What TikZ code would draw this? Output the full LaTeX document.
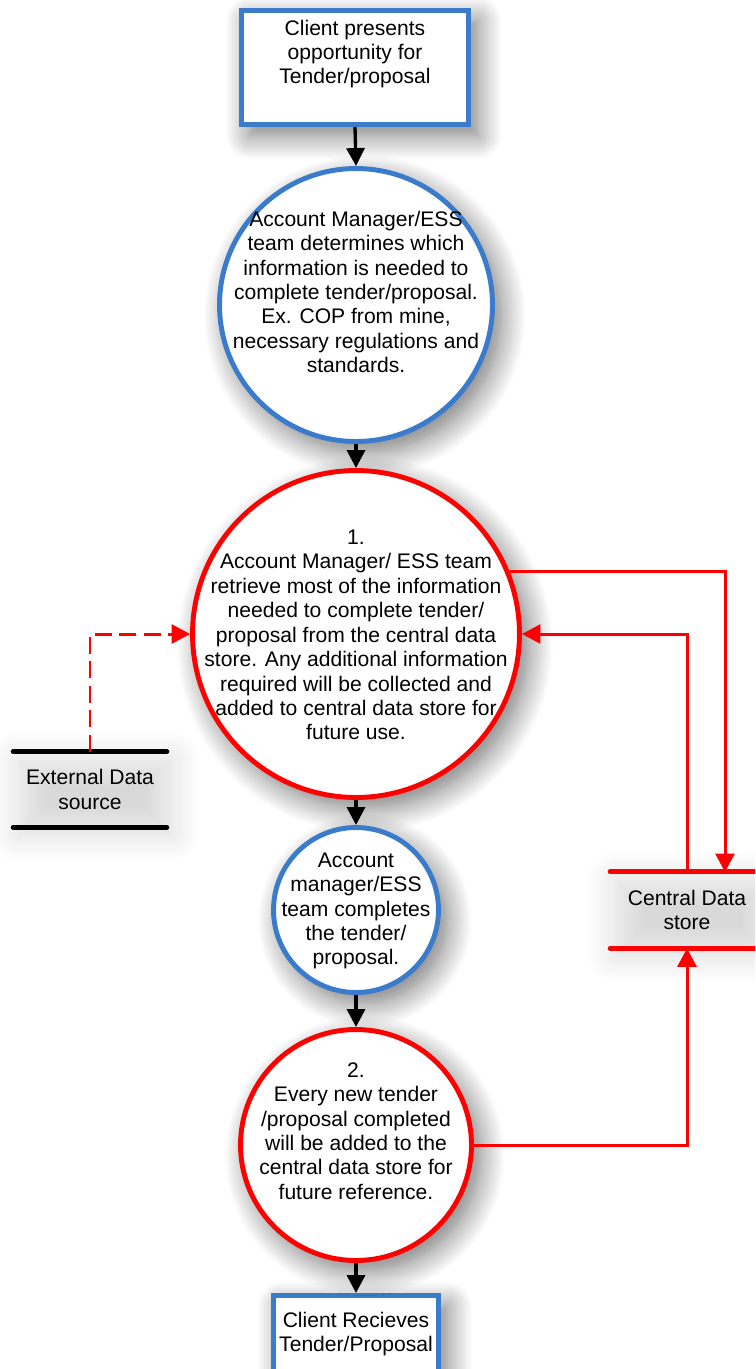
\documentclass[tikz,border=0pt]{standalone}
\usepackage{fontspec}
\setmainfont{Liberation Sans}
\usetikzlibrary{arrows.meta,shadows.blur}

\definecolor{procblue}{HTML}{3A7BCB}
\definecolor{flowred}{HTML}{FF0000}

\begin{document}
\begin{tikzpicture}[x=0.02cm,y=-0.02cm,
  font=\fontsize{12}{13.9}\selectfont,
  sh/.style={blur shadow={shadow xshift=5pt,shadow yshift=-6pt,shadow blur radius=14pt,shadow blur steps=16,shadow opacity=55}},
  termbox/.style={rectangle,draw=procblue,line width=2.8pt,fill=white,inner sep=0pt,sh},
  proc/.style={circle,line width=2.8pt,fill=white,inner sep=0pt,sh},
  blueproc/.style={proc,draw=procblue},
  redproc/.style={proc,draw=flowred},
  txt/.style={align=center,inner sep=0pt},
  store/.style={rectangle,inner sep=0pt,align=center,minimum width=3.06cm,
    blur shadow={shadow xshift=3pt,shadow yshift=-4pt,shadow blur radius=16pt,shadow blur steps=16,shadow opacity=15}},
  storeline/.style={line width=2.8pt,line cap=round},
  flow/.style={line width=1.9pt,-{Triangle[length=0.36cm,width=0.36cm]}},
  dataflow/.style={draw=flowred,color=flowred,line width=1.7pt,-{Triangle[length=0.37cm,width=0.38cm]}}
]
\useasboundingbox (0,0) rectangle (755,1369);
\clip (0,0) rectangle (755,1369);

% data stores (open rectangles)
\node[store,minimum height=1.5cm] (eds) at (90,789.5) {External Data\\source};
\draw[storeline,black] (eds.north west) -- (eds.north east);
\draw[storeline,black] (eds.south west) -- (eds.south east);

\node[store,minimum height=1.52cm] (cds) at (687,910) {Central Data\\store};
\draw[storeline,flowred] (cds.north west) -- (cds.north east);
\draw[storeline,flowred] (cds.south west) -- (cds.south east);

% start and end terminals
\node[termbox,minimum width=4.54cm,minimum height=2.28cm] (b1) at (355,67.5) {};
\node[txt] (tb1) at (355,54) {Client presents\\opportunity for\\Tender/proposal};

\node[termbox,minimum width=3.3cm,minimum height=2.5cm] (b2) at (356,1358) {};
\node[txt] (tb2) at (356,1334) {Client Recieves\\Tender/Proposal};

% processes
\node[blueproc,minimum size=5.46cm] (c1) at (356,305) {};
\node[txt] (t1) at (356,292) {Account Manager/ESS\\team determines which\\information is needed to\\complete tender/proposal.\\Ex. COP from mine,\\necessary regulations and\\standards.};

\node[redproc,minimum size=6.54cm] (c2) at (356,634) {};
\node[txt] (t2) at (356,635) {1.\\Account Manager/ ESS team\\retrieve most of the information\\needed to complete tender/\\proposal from the central data\\store. Any additional information\\required will be collected and\\added to central data store for\\future use.};

\node[blueproc,minimum size=3.3cm] (c3) at (356,910) {};
\node[txt] (t3) at (356,911) {Account\\manager/ESS\\team completes\\the tender/\\proposal.};

\node[redproc,minimum size=4.62cm] (c4) at (356,1145) {};
\node[txt] (t4) at (356,1131) {2.\\Every new tender\\/proposal completed\\will be added to the\\central data store for\\future reference.};

% main flow
\draw[flow] (b1.south) -- (c1.north);
\draw[flow] (c1.south) -- (c2.north);
\draw[flow] (c2.south) -- (c3.north);
\draw[flow] (c3.south) -- (c4.north);
\draw[flow] (c4.south) -- (b2.north);

% data flows
\coordinate (cdin) at (725,872);
\draw[dataflow] (c2.22) -| (cdin);
\draw[dataflow] (cds.north) |- (c2.east);
\draw[dataflow] (c4.east) -| (cds.south);
\draw[dataflow,dash pattern=on 0.34cm off 0.15cm] (eds.north) |- (c2.west);
\end{tikzpicture}
\end{document}
